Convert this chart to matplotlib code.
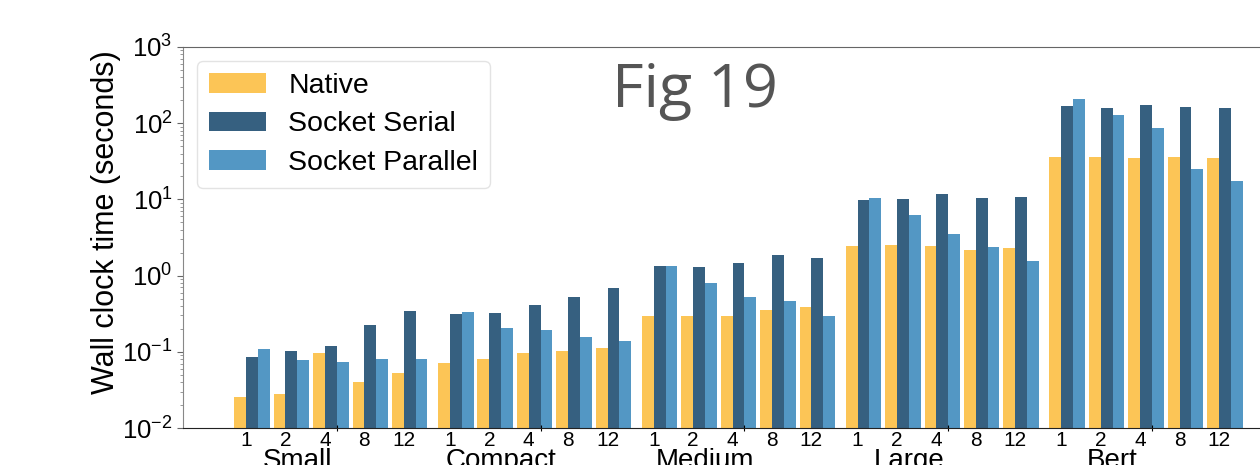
import numpy as np
import matplotlib
matplotlib.use("Agg")
import matplotlib.pyplot as plt
from matplotlib.ticker import FixedLocator, NullFormatter

plt.rcParams['font.family'] = ['Liberation Sans', 'DejaVu Sans']
plt.rcParams['mathtext.fontset'] = 'custom'
plt.rcParams['mathtext.rm'] = 'Liberation Sans'
plt.rcParams['mathtext.it'] = 'Liberation Sans:italic'
plt.rcParams['mathtext.bf'] = 'Liberation Sans:bold'

# ---- data ----
models = ["Small", "Compact", "Medium", "Large", "Bert"]
threads = ["1", "2", "4", "8", "12"]
series_names = ["Native", "Socket Serial", "Socket Parallel"]

native = [0.0253, 0.0279, 0.0955, 0.0402, 0.0532,
          0.072, 0.0796, 0.0955, 0.102, 0.112,
          0.298, 0.298, 0.298, 0.354, 0.391,
          2.44, 2.50, 2.47, 2.17, 2.28,
          35.6, 35.6, 34.6, 36.4, 34.6]
socket_serial = [0.0863, 0.102, 0.119, 0.225, 0.343,
                 0.313, 0.32, 0.41, 0.52, 0.687,
                 1.34, 1.31, 1.46, 1.86, 1.70,
                 9.8, 10.2, 11.7, 10.4, 10.7,
                 168, 158, 172, 163, 158]
socket_parallel = [0.108, 0.078, 0.0735, 0.0813, 0.0796,
                   0.33, 0.205, 0.193, 0.158, 0.139,
                   1.34, 0.80, 0.519, 0.46, 0.298,
                   10.4, 6.24, 3.51, 2.40, 1.56,
                   210, 127, 86.5, 24.8, 17.4]

colors = ["#FCC556", "#366080", "#5397C4"]

# ---- layout ----
W, H = 1260, 465
fig = plt.figure(figsize=(W / 100, H / 100), dpi=100)
ax = fig.add_axes([183 / W, 37 / H, (W - 183) / W, 381 / H])

group_step = 5.17
bw = 0.3
pos = np.array([g * group_step + i for g in range(len(models)) for i in range(len(threads))])

all_series = [native, socket_serial, socket_parallel]
offsets = [-0.5 * bw, 0.5 * bw, 1.5 * bw]
for vals, off, c, name in zip(all_series, offsets, colors, series_names):
    ax.bar(pos + off, vals, width=bw, color=c, label=name, linewidth=0)

ax.set_yscale('log')
ax.set_ylim(1e-2, 1e3)
ax.set_xlim(-1.6, 25.72)

# x ticks: thread numbers (no tick marks), group tick marks (no labels)
ax.set_xticks(pos)
ax.set_xticklabels(threads * len(models), fontsize=15)
ax.tick_params(axis='x', which='major', length=0, pad=2)
group_ticks = [g * group_step + 2 + bw for g in range(len(models))]
ax.xaxis.set_minor_locator(FixedLocator(group_ticks))
ax.xaxis.set_minor_formatter(NullFormatter())
ax.tick_params(axis='x', which='minor', length=4, direction='inout', width=0.8)

for g, m in enumerate(models):
    ax.annotate(m, xy=(g * group_step + 1.3, 0), xycoords=('data', 'axes fraction'),
                xytext=(0, -20), textcoords='offset pixels',
                ha='center', va='top', fontsize=20)

ax.tick_params(axis='y', which='major', labelsize=18.5, length=4, color='#666')
ax.tick_params(axis='y', which='minor', length=2, color='#888')
ax.set_ylabel("Wall clock time (seconds)", fontsize=22)
ax.yaxis.set_label_coords(-0.058, 0.54)

ax.spines['right'].set_visible(False)
ax.spines['left'].set_color('#888')
ax.spines['top'].set_color('#666')
ax.spines['bottom'].set_color('#222')

leg = ax.legend(loc='upper left', fontsize=20.5, handlelength=2.0, handleheight=0.7,
                labelspacing=0.45, frameon=True, fancybox=True)
leg.get_frame().set_edgecolor('#dddddd')

fig.text(695 / W, 1 - 107 / H, "Fig 19", ha='center', va='baseline',
         fontsize=44, color='#555555', family=['Open Sans', 'DejaVu Sans'])

fig.savefig("out.png", dpi=100)
